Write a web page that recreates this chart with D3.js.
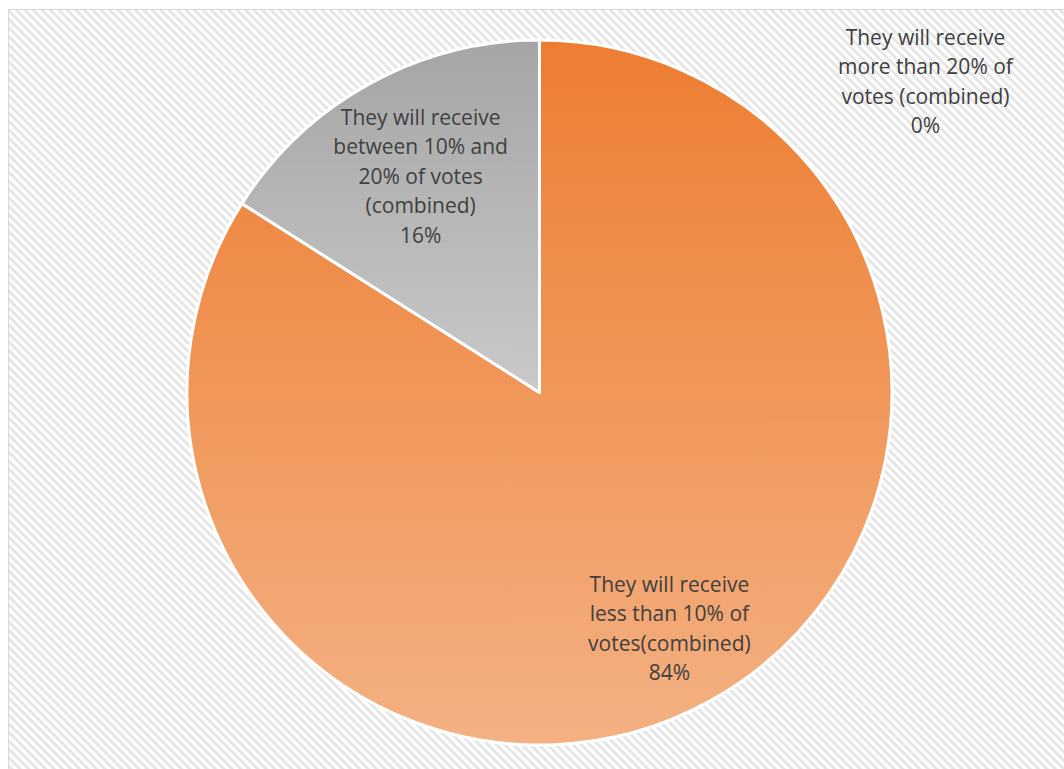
<!DOCTYPE html>
<html>
<head>
<meta charset="utf-8">
<script src="https://cdn.jsdelivr.net/npm/d3@7"></script>
<style>
  body { margin: 0; background: #fff; }
  svg { display: block; }
  .lbl { font-family: "Open Sans", "Liberation Sans", Arial, sans-serif; font-size: 21px; fill: #404040; }
</style>
</head>
<body>
<div id="chart"></div>
<script>
// slice data, clockwise from 12 o'clock
const categories = [
    "They will receive less than 10% of votes(combined)",
    "They will receive between 10% and 20% of votes (combined)",
    "They will receive more than 20% of votes (combined)"
];
const values = [84, 16, 0];
const percentLabels = ["84%", "16%", "0%"];
// label text broken into lines as in the picture
const labelLines = [
    ["They will receive", "less than 10% of", "votes(combined)", "84%"],
    ["They will receive", "between 10% and", "20% of votes", "(combined)", "16%"],
    ["They will receive", "more than 20% of", "votes (combined)", "0%"]
];

const W = 1064, H = 769;
const cx = 539.5, cy = 392.5, radius = 352.5;

const svg = d3.select("#chart").append("svg")
    .attr("width", W)
    .attr("height", H);

const defs = svg.append("defs");

// hatched chart background
const pat = defs.append("pattern")
    .attr("id", "hatch")
    .attr("patternUnits", "userSpaceOnUse")
    .attr("width", 6)
    .attr("height", 6)
    .attr("patternTransform", "rotate(45)");
pat.append("rect").attr("width", 6).attr("height", 6).attr("fill", "#ffffff");
pat.append("rect").attr("width", 6).attr("height", 3).attr("fill", "#e6e6e6");

// slice gradients (top dark -> bottom light)
const grads = [
    ["#ed7d31", "#f4b183"],
    ["#a5a5a5", "#c9c9c9"],
    ["#4472c4", "#8faadc"]
];
grads.forEach(function (g, i) {
    const lg = defs.append("linearGradient")
        .attr("id", "grad" + i)
        .attr("x1", 0).attr("y1", 0).attr("x2", 0).attr("y2", 1);
    lg.append("stop").attr("offset", "0%").attr("stop-color", g[0]);
    lg.append("stop").attr("offset", "100%").attr("stop-color", g[1]);
});

svg.append("rect")
    .attr("x", 8.5)
    .attr("y", 9.5)
    .attr("width", W + 10)
    .attr("height", H + 10)
    .attr("fill", "url(#hatch)")
    .attr("stroke", "#d9d9d9")
    .attr("stroke-width", 1);

const pie = d3.pie()
    .sort(null)
    .value(function (d) { return d; });

const arcs = pie(values);

const arc = d3.arc()
    .innerRadius(0)
    .outerRadius(radius);

const g = svg.append("g")
    .attr("transform", "translate(" + cx + "," + cy + ")");

g.selectAll("path.slice")
    .data(arcs)
    .enter().append("path")
    .attr("class", "slice")
    .attr("d", arc)
    .attr("fill", function (d, i) { return "url(#grad" + i + ")"; })
    .attr("stroke", "#ffffff")
    .attr("stroke-width", 3)
    .attr("stroke-linejoin", "round");

// label placement: fraction of radius along slice mid-angle
const labelRadius = [0.765, 0.70];
const lineH = 29.5;

arcs.forEach(function (d, i) {
    let x, y;
    if (d.endAngle - d.startAngle > 0) {
        const a = (d.startAngle + d.endAngle) / 2;
        const r = radius * labelRadius[i];
        x = Math.sin(a) * r;
        y = -Math.cos(a) * r;
    } else {
        // zero slice: label sits outside the pie, top right
        x = 386;
        y = -311;
    }
    const lines = labelLines[i];
    const t = g.append("text")
        .attr("class", "lbl")
        .attr("text-anchor", "middle");
    lines.forEach(function (s, j) {
        t.append("tspan")
            .attr("x", x)
            .attr("y", y + (j - (lines.length - 1) / 2) * lineH)
            .attr("dy", "0.35em")
            .text(s);
    });
});
</script>
</body>
</html>
